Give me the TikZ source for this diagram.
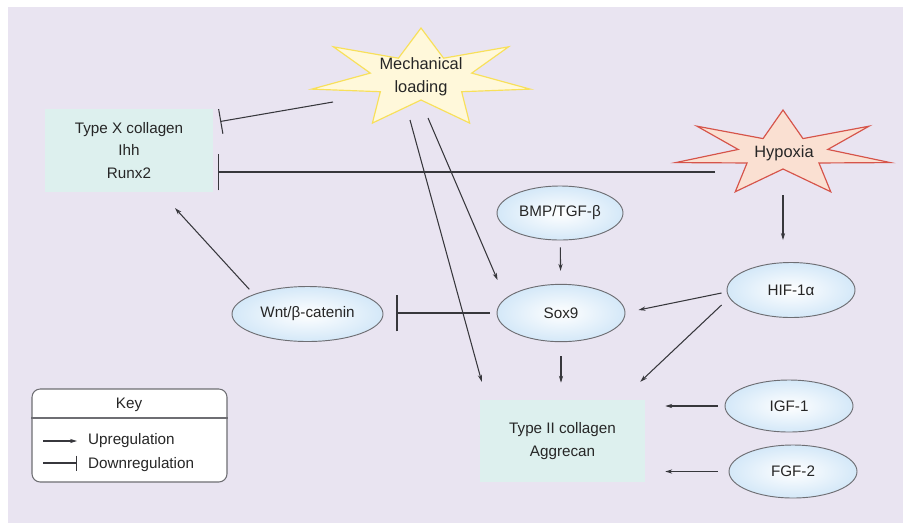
\documentclass[tikz,border=0pt]{standalone}
\usepackage{fontspec}
\setmainfont{Liberation Sans}
\usetikzlibrary{shapes.geometric,arrows.meta,calc}
\definecolor{bgLav}{RGB}{233,228,241}
\definecolor{boxCyan}{RGB}{221,240,238}
\definecolor{ellBlue}{RGB}{212,232,248}
\definecolor{ellEdge}{RGB}{110,110,115}
\definecolor{lineGrey}{RGB}{55,55,60}
\definecolor{mechFill}{RGB}{255,248,218}
\definecolor{mechEdge}{RGB}{248,224,90}
\definecolor{hypFill}{RGB}{250,224,210}
\definecolor{hypEdge}{RGB}{214,84,74}

\begin{document}
\begin{tikzpicture}[x=0.03cm,y=-0.03cm,>={Stealth[length=6pt,width=3.6pt]},
  every node/.style={font=\fontsize{13}{19}\selectfont, text=black!85}]
\tikzstyle{genebox} = [rectangle, fill=boxCyan, minimum width=5.04cm, minimum height=2.48cm, align=center]
\tikzstyle{factor} = [ellipse, draw=ellEdge, line width=0.8pt, inner color=white, outer color=ellBlue, minimum width=3.84cm, minimum height=1.65cm, inner sep=0pt]
\tikzstyle{upreg} = [->, draw=lineGrey, line width=0.9pt]
\tikzstyle{downreg} = [-{Bar[width=1.1cm]}, draw=lineGrey, line width=0.9pt]
\tikzstyle{keybox} = [rectangle, rounded corners=7pt, draw=ellEdge, line width=0.9pt, fill=white, minimum width=5.85cm, minimum height=2.79cm]

\useasboundingbox (0,0) rectangle (903,523);
\fill[bgLav] (8,7) rectangle (903,523);

% the two stars
\filldraw[fill=mechFill, draw=mechEdge, line width=1pt] (421,28)
  \foreach \i [evaluate=\i as \ang using 90+\i*180/7,
               evaluate=\i as \rx using 52+60*iseven(\i),
               evaluate=\i as \ry using 22+28*iseven(\i)] in {1,...,13}
  { -- ({421+\rx*cos(\ang)},{78-\ry*sin(\ang)}) } -- cycle;
\filldraw[fill=hypFill, draw=hypEdge, line width=1pt] (783,110)
  \foreach \i [evaluate=\i as \ang using 90+\i*180/7,
               evaluate=\i as \rx using 46+64*iseven(\i),
               evaluate=\i as \ry using 16+27*iseven(\i)] in {1,...,13}
  { -- ({783+\rx*cos(\ang)},{153-\ry*sin(\ang)}) } -- cycle;

\node(mechLoading) [align=center, font=\fontsize{14}{20}\selectfont] at (421,77) {Mechanical\\loading};
\node(hypoxia) [font=\fontsize{14}{20}\selectfont] at (784,153) {Hypoxia};
\coordinate(mechL) at (333,102);
\coordinate(mechB1) at (428,118);
\coordinate(mechB2) at (410,120);
\coordinate(hypL) at (715,172);
\coordinate(hypB) at (783,195);

\node(typeX) [genebox] at (129,150.5) {Type X collagen\\Ihh\\Runx2};
\node(typeII) [genebox, minimum width=4.95cm, minimum height=2.46cm] at (562.5,441) {Type II collagen\\Aggrecan};
\node(bmp) [factor, minimum width=3.78cm, minimum height=1.62cm] at (560,213) {BMP/TGF-β};
\node(sox9) [factor, minimum height=1.72cm] at (561,313) {Sox9};
\node(wnt) [factor, minimum width=4.53cm] at (307.5,314) {Wnt/β-catenin};
\node(hif) [factor] at (791,290) {HIF-1α};
\node(igf) [factor, minimum height=1.56cm] at (789,406) {IGF-1};
\node(fgf) [factor, minimum height=1.59cm] at (793,471.5) {FGF-2};

\draw[downreg, -{Bar[width=0.75cm]}] (mechL) -- ($(typeX.east)+(7,-29)$);
\draw[downreg] (hypL) -- ($(typeX.east |- hypL)+(5,0)$);
\draw[upreg] (mechB1) -- ($(sox9.west)+(1,-33)$);
\draw[upreg] (mechB2) -- ($(typeII.north west)+(2,-18)$);
\draw[upreg, shorten <=0.21cm, shorten >=0.39cm] (bmp) -- (sox9);
\draw[downreg, shorten <=0.21cm] (sox9.west) -- ($(wnt.east |- sox9.west)+(13,0)$);
\draw[upreg, shorten <=0.2cm] (wnt.north west) -- ($(typeX.south)+(46,16)$);
\draw[upreg] ($(hif.west)+(-5,3)$) -- ($(sox9.east)+(13,-3)$);
\draw[upreg] ($(hif.west)+(-5,15)$) -- ($(typeII.north east)+(-5,-18)$);
\draw[upreg, shorten >=0.66cm] (hypB) -- (hypB |- hif.north);
\draw[upreg, shorten <=0.42cm, shorten >=0.51cm] (sox9.south) -- (sox9.south |- typeII.north);
\draw[upreg, shorten <=0.21cm, shorten >=0.6cm] (igf.west) -- (igf.west -| typeII.east);
\draw[upreg, shorten <=0.33cm, shorten >=0.6cm] (fgf.west) -- (fgf.west -| typeII.east);

% key
\node(keyBox) [keybox] at (129.5,435.5) {};
\draw[draw=ellEdge, line width=0.9pt] (keyBox.west |- 0,418) -- (keyBox.east |- 0,418);
\node(keyTitle) at (129,405) {Key};
\node(upLabel) [anchor=west, inner sep=0pt] at (88,441) {Upregulation};
\node(downLabel) [anchor=west, inner sep=0pt] at (88,465) {Downregulation};
\draw[upreg] ($(upLabel.west)+(-45,0)$) -- ($(upLabel.west)+(-11,0)$);
\draw[downreg, -{Bar[width=0.45cm]}] ($(downLabel.west)+(-45,-2)$) -- ($(downLabel.west)+(-11,-2)$);
\end{tikzpicture}
\end{document}
